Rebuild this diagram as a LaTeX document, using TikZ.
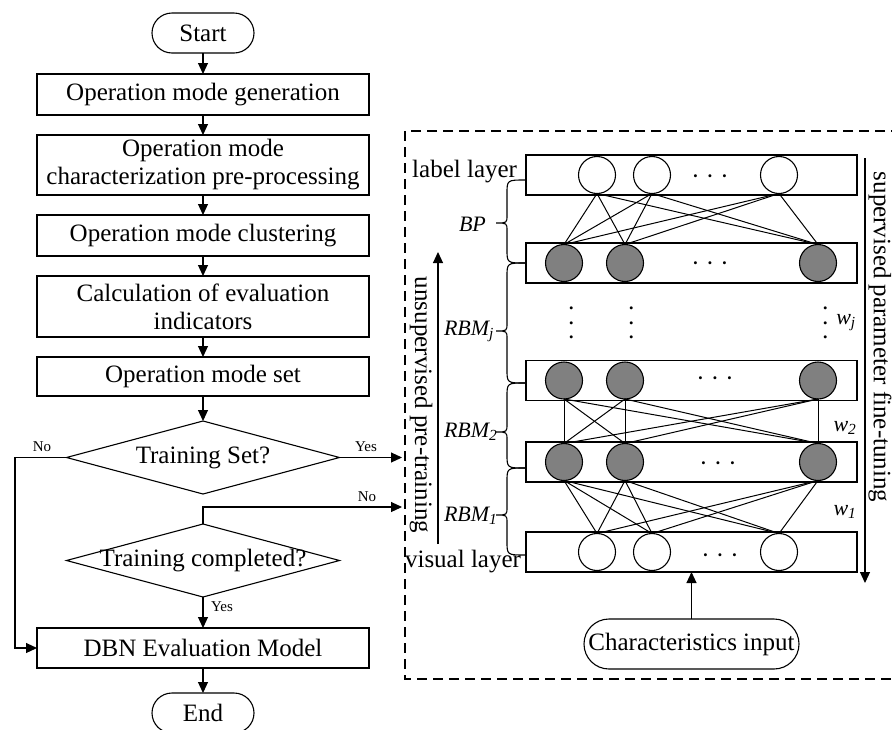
\documentclass[tikz,border=0pt]{standalone}
\usepackage{fontspec}
\setmainfont{Liberation Serif}
\usetikzlibrary{arrows.meta,shapes.geometric}
\definecolor{unitgray}{RGB}{128,128,128}

% curly brace opening towards the layer boxes: top end, bottom end, tip
\newcommand{\layerbrace}[3]{%
  \draw (525,#1) .. controls (507,#1) .. (507,#1+14) -- (507,#3-8)
    .. controls (507,#3) .. (496,#3) .. controls (507,#3) .. (507,#3+8)
    -- (507,#2-14) .. controls (507,#2) .. (525,#2);}

\begin{document}
\begin{tikzpicture}[x=1pt,y=-1pt,
  line width=1.1pt,
  every node/.style={font=\fontsize{25}{28}\selectfont, inner sep=0pt, outer sep=0pt},
  >={Triangle[length=11pt,width=10pt]},
  proc/.style={draw, rectangle, minimum width=332pt, align=center},
  term/.style={draw, rectangle, rounded corners=20pt, minimum width=102pt, minimum height=40pt},
  decide/.style={draw, diamond, minimum width=273pt, minimum height=73pt},
  small/.style={font=\fontsize{15}{17}\selectfont},
  layerbox/.style={draw, rectangle, minimum width=331pt, minimum height=40pt},
  openunit/.style={draw, circle, fill=white, minimum size=37pt},
  hidunit/.style={draw, circle, fill=unitgray, minimum size=37pt},
  ital/.style={font=\fontsize{22}{24}\selectfont\itshape},
  link/.style={line width=1pt},
]
\useasboundingbox (0,0) rectangle (892,729);

% ---------------- flowchart ----------------
\node[term] (start) at (203,33) {Start};
\node[proc, minimum height=41pt] (gen) at (203,94.5) {Operation mode generation};
\node[proc, minimum height=60pt] (pre) at (203,165) {Operation mode\\characterization pre-processing};
\node[proc, minimum height=41pt] (clu) at (203,235.5) {Operation mode clustering};
\node[proc, minimum height=61pt] (ind) at (203,306.5) {Calculation of evaluation\\indicators};
\node[proc, minimum height=39pt] (set) at (203,376.5) {Operation mode set};
\node[decide, label=center:Training Set?] (ts) at (203,457.5) {};
\node[decide, label=center:Training completed?] (tc) at (203,560.5) {};
\node[proc, minimum height=40pt] (dbn) at (203,648) {DBN Evaluation Model};
\node[term] (end) at (203,713) {End};

\draw[->] (start.south) -- (gen.north);
\draw[->] (gen.south) -- (pre.north);
\draw[->] (pre.south) -- (clu.north);
\draw[->] (clu.south) -- (ind.north);
\draw[->] (ind.south) -- (set.north);
\draw[->] (set.south) -- (ts.north);
\draw[->] (tc.south) -- (dbn.north);
\draw[->] (dbn.south) -- (end.north);

\coordinate (lft) at (15,457.5);
\draw[->] (ts.west) -- (lft) |- (dbn.west);
\coordinate (yesend) at (402,457.5);
\draw[->] (ts.east) -- (yesend);
\coordinate (noup) at (203,507);
\coordinate (noend) at (402,507);
\draw[->] (tc.north) -- (noup) -- (noend);

\node[small] (no1) at (42,447) {No};
\node[small] (yes1) at (366,447) {Yes};
\node[small] (no2) at (367,497) {No};
\node[small] (yes2) at (222,607) {Yes};

% ---------------- DBN structure ----------------
\draw[dashed, dash pattern=on 10pt off 6pt] (405,131) rectangle (905,679);

\node[layerbox] (lab) at (691.5,175) {};
\node[layerbox] (h4) at (691.5,263) {};
\node[layerbox] (h3) at (691.5,380.5) {};
\node[layerbox] (h2) at (691.5,462) {};
\node[layerbox] (vis) at (691.5,552) {};

\foreach \x [count=\i] in {597,652,779} {
  \node[openunit] (l\i) at (\x,175) {};
  \node[openunit] (v\i) at (\x,552) {};
}
\foreach \x [count=\i] in {564,625,818} {
  \node[hidunit] (a\i) at (\x,263) {};
  \node[hidunit] (b\i) at (\x,380.5) {};
  \node[hidunit] (c\i) at (\x,462) {};
}
\foreach \i in {1,2,3} {
  \foreach \k in {1,2,3} {
    \draw[link] (l\i.south) -- (a\k.north);
    \draw[link] (b\i.south) -- (c\k.north);
    \draw[link] (c\i.south) -- (v\k.north);
  }
}

% ellipses inside the layers
\node[anchor=base] (dl) at (710,184.5) {· · ·};
\node[anchor=base] (d4) at (710,271.5) {· · ·};
\node[anchor=base] (d3) at (715,386.5) {· · ·};
\node[anchor=base] (d2) at (718,471.5) {· · ·};
\node[anchor=base] (dv) at (720,563.5) {· · ·};
% vertical ellipses between the upper layers
\node[anchor=base, rotate=90] (e1) at (579.5,323) {· · ·};
\node[anchor=base, rotate=90] (e2) at (639.5,323) {· · ·};
\node[anchor=base, rotate=90] (e3) at (833.5,323) {· · ·};

% weights
\node[ital] (wj) at (846,323) {w\textsubscript{j}};
\node[ital] (w2) at (845,428) {w\textsubscript{2}};
\node[ital] (w1) at (845,512) {w\textsubscript{1}};

% layer names
\node[anchor=base east] (ll) at (517,177) {label layer};
\node[anchor=base east] (vl) at (521,567) {visual layer};

% braces and their names
\layerbrace{180}{263}{223}
\layerbrace{263}{383}{331}
\layerbrace{383}{468}{432}
\layerbrace{468}{555}{515}
\node[ital, anchor=west] (bp) at (459,224) {BP};
\node[ital, anchor=west] (rbmj) at (444,331) {RBM\textsubscript{j}};
\node[ital, anchor=west] (rbm2) at (444,432) {RBM\textsubscript{2}};
\node[ital, anchor=west] (rbm1) at (444,516) {RBM\textsubscript{1}};

% training directions
\coordinate (ub) at (438,544);
\coordinate (ut) at (438,252);
\draw[->] (ub) -- (ut);
\node[rotate=-90] (unsup) at (421,405) {unsupervised pre-training};
\coordinate (st) at (865,158);
\coordinate (sb) at (865,583);
\draw[->] (st) -- (sb);
\node[rotate=-90] (sup) at (880,337) {supervised parameter fine-tuning};

% input
\node[draw, rounded corners=25pt, minimum width=215pt, minimum height=50pt] (chi) at (691.5,644) {Characteristics input};
\draw[->] (chi.north) -- (vis.south);
\end{tikzpicture}
\end{document}
